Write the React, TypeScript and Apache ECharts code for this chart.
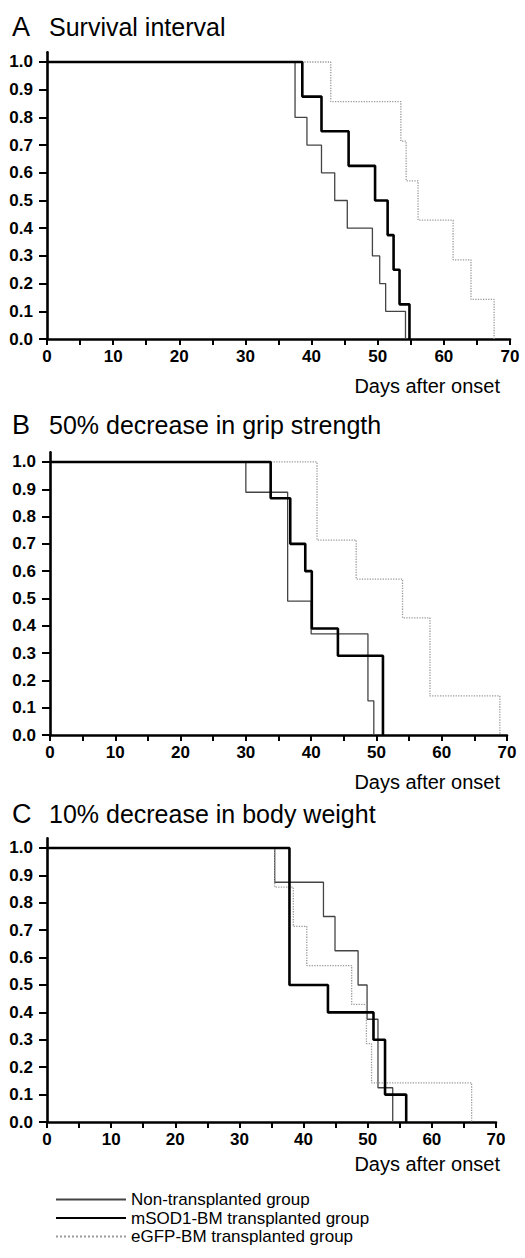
import React, { useEffect, useRef } from "react";
import * as echarts from "echarts";

const groupNames = [
  "Non-transplanted group",
  "mSOD1-BM transplanted group",
  "eGFP-BM transplanted group",
];
const panelLetters = ["A", "B", "C"];
const panelTitles = [
  "Survival interval",
  "50% decrease in grip strength",
  "10% decrease in body weight",
];
const xAxisTitle = "Days after onset";
const xTickValues = [0, 5, 10, 15, 20, 25, 30, 35, 40, 45, 50, 55, 60, 65, 70];
const xLabelValues = [0, 10, 20, 30, 40, 50, 60, 70];
const yTickValues = [0, 0.1, 0.2, 0.3, 0.4, 0.5, 0.6, 0.7, 0.8, 0.9, 1.0];

// Panel A: survival interval [day, proportion]
const survivalNon = [[0, 1], [37.5, 0.8], [39.3, 0.7], [41.5, 0.6], [43.5, 0.5], [45.4, 0.4], [49.2, 0.3], [50.3, 0.2], [51.2, 0.1], [54.2, 0]];
const survivalMsod = [[0, 1], [38.6, 0.875], [41.5, 0.75], [45.6, 0.625], [49.6, 0.5], [51.5, 0.375], [52.4, 0.25], [53.3, 0.125], [54.8, 0]];
const survivalEgfp = [[0, 1], [42.9, 0.857], [53.5, 0.714], [54.3, 0.571], [56.1, 0.429], [61.4, 0.286], [64.1, 0.143], [67.6, 0]];

// Panel B: 50% decrease in grip strength
const gripNon = [[0, 1], [30.0, 0.889], [36.4, 0.49], [40.0, 0.37], [48.7, 0.125], [49.6, 0]];
const gripMsod = [[0, 1], [33.8, 0.867], [36.8, 0.7], [39.1, 0.6], [40.1, 0.39], [44.1, 0.29], [51.0, 0]];
const gripEgfp = [[0, 1], [40.9, 0.714], [46.9, 0.571], [54.0, 0.429], [58.2, 0.143], [68.9, 0]];

// Panel C: 10% decrease in body weight
const weightNon = [[0, 1], [35.5, 0.875], [43.1, 0.75], [44.9, 0.625], [48.5, 0.5], [49.9, 0.375], [51.6, 0.125], [53.9, 0]];
const weightMsod = [[0, 1], [37.8, 0.5], [43.8, 0.4], [50.9, 0.3], [52.7, 0.1], [56.0, 0]];
const weightEgfp = [[0, 1], [35.5, 0.857], [38.4, 0.714], [40.5, 0.571], [47.5, 0.429], [49.8, 0.286], [50.6, 0.143], [66.2, 0]];

const panelData = [
  [survivalNon, survivalMsod, survivalEgfp],
  [gripNon, gripMsod, gripEgfp],
  [weightNon, weightMsod, weightEgfp],
];

const FONT = "'Liberation Sans', Arial, Helvetica, sans-serif";

export default function App() {
  const ref = useRef<HTMLDivElement>(null);

  useEffect(() => {
    if (!ref.current) return;
    const chart = echarts.init(ref.current, undefined, { renderer: "svg" });

    const grids = [
      { left: 47, top: 52.3, width: 463, height: 286.7 },
      { left: 50, top: 452.4, width: 457, height: 282.6 },
      { left: 47, top: 838.4, width: 449, height: 283.6 },
    ];
    const titleY = [27, 425, 814];
    const axisNameY = [386, 782, 1164];

    const lineStyles = [
      { color: "#444", width: 1.3, type: "solid" },
      { color: "#000", width: 2.6, type: "solid" },
      { color: "#9a9a9a", width: 1.3, type: "dotted" },
    ];

    const xAxes = grids.map((_, i) => ({
      type: "value",
      gridIndex: i,
      min: 0,
      max: 70,
      interval: 5,
      splitLine: { show: false },
      axisLine: { show: true, onZero: false, lineStyle: { color: "#000", width: 2.6 } },
      axisTick: {
        show: true,
        length: 6,
        customValues: xTickValues,
        lineStyle: { color: "#000", width: 2 },
      },
      axisLabel: {
        customValues: xLabelValues,
        margin: 9,
        fontSize: 17,
        fontWeight: "bold",
        color: "#000",
        fontFamily: FONT,
      },
    }));

    const yAxes = grids.map((_, i) => ({
      type: "value",
      gridIndex: i,
      min: 0,
      max: 1.035,
      splitLine: { show: false },
      axisLine: { show: true, onZero: false, lineStyle: { color: "#000", width: 2.6 } },
      axisTick: {
        show: true,
        length: 8,
        customValues: yTickValues,
        lineStyle: { color: "#000", width: 2 },
      },
      axisLabel: {
        customValues: yTickValues,
        margin: 14,
        fontSize: 17,
        fontWeight: "bold",
        color: "#000",
        fontFamily: FONT,
        formatter: (v: number) => v.toFixed(1),
      },
    }));

    const series: any[] = [];
    panelData.forEach((groups, p) => {
      groups.forEach((data, g) => {
        series.push({
          name: groupNames[g],
          type: "line",
          step: "end",
          xAxisIndex: p,
          yAxisIndex: p,
          data,
          symbol: "none",
          lineStyle: lineStyles[g],
          itemStyle: { color: lineStyles[g].color },
          z: g === 1 ? 3 : 2,
        });
      });
    });

    const graphics: any[] = [];
    panelLetters.forEach((letter, i) => {
      graphics.push({
        type: "text",
        x: 12,
        y: titleY[i],
        style: {
          text: letter,
          fontSize: 27,
          fontFamily: FONT,
          fill: "#000",
          verticalAlign: "middle",
          align: "left",
        },
      });
      graphics.push({
        type: "text",
        x: 49,
        y: titleY[i],
        style: {
          text: panelTitles[i],
          fontSize: 25,
          fontFamily: FONT,
          fill: "#000",
          verticalAlign: "middle",
          align: "left",
        },
      });
      graphics.push({
        type: "text",
        x: 500,
        y: axisNameY[i],
        style: {
          text: xAxisTitle,
          fontSize: 20,
          fontFamily: FONT,
          fill: "#000",
          verticalAlign: "middle",
          align: "right",
        },
      });
    });

    chart.setOption({
      animation: false,
      backgroundColor: "#fff",
      grid: grids,
      xAxis: xAxes,
      yAxis: yAxes,
      series,
      legend: {
        orient: "vertical",
        left: 50,
        top: 1186,
        itemWidth: 70,
        itemHeight: 14,
        itemGap: 1.5,
        data: groupNames,
        selectedMode: false,
        itemStyle: { opacity: 0 },
        textStyle: { fontSize: 17, fontFamily: FONT, color: "#000", lineHeight: 15 },
      },
      graphic: graphics,
    });

    return () => chart.dispose();
  }, []);

  return (
    <div
      ref={ref}
      style={{ position: "absolute", left: 0, top: 0, width: 525, height: 1258, background: "#fff" }}
    />
  );
}
